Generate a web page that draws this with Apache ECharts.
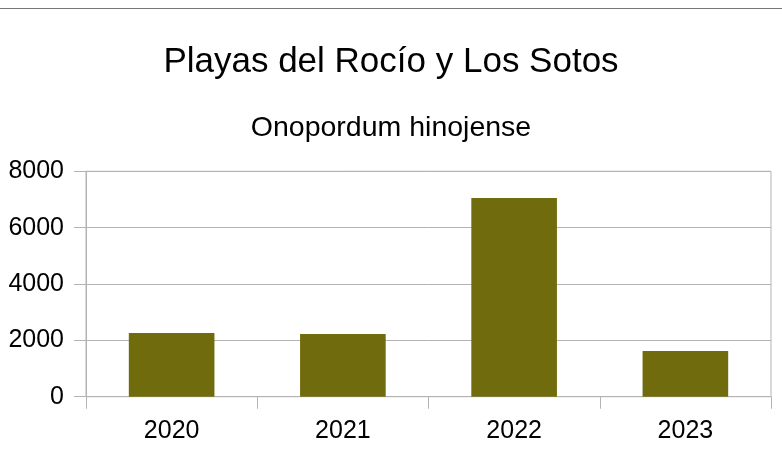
<!DOCTYPE html>
<html>
<head>
<meta charset="utf-8">
<script src="https://cdn.jsdelivr.net/npm/echarts@6/dist/echarts.min.js"></script>
<style>
html,body{margin:0;padding:0;background:#fff;}
#chart{width:782px;height:451px;}
</style>
</head>
<body>
<div id="chart"></div>
<script>
const titleText = "Playas del Rocío y Los Sotos";
const subtitleText = "Onopordum hinojense";
const categories = ["2020", "2021", "2022", "2023"];
const values = [2260, 2225, 7050, 1620];
const yTicks = { min: 0, max: 8000, interval: 2000 };

const FONT = "'Liberation Sans', Arial, sans-serif";
const chart = echarts.init(document.getElementById('chart'), null, {renderer: 'canvas'});
chart.setOption({
  animation: false,
  backgroundColor: '#ffffff',
  graphic: [{
    type: 'line',
    shape: {x1: 0, y1: 8.5, x2: 782, y2: 8.5},
    style: {stroke: '#777777', lineWidth: 1}
  }],
  title: [
    {text: titleText, left: 'center', top: 40,
     textStyle: {fontFamily: FONT, fontSize: 35, fontWeight: 'normal', color: '#000'}},
    {text: subtitleText, left: 'center', top: 109,
     textStyle: {fontFamily: FONT, fontSize: 28.5, fontWeight: 'normal', color: '#000'}}
  ],
  grid: {left: 86, right: 11, top: 171.3, bottom: 54.3, show: true, borderColor: '#b3b3b3', borderWidth: 1},
  xAxis: {
    type: 'category', data: categories, boundaryGap: true,
    axisLine: {show: true, lineStyle: {color: '#b3b3b3', width: 1}},
    axisTick: {show: true, length: 12, alignWithLabel: false, lineStyle: {color: '#b3b3b3'}},
    axisLabel: {fontFamily: FONT, fontSize: 25, color: '#000', margin: 22}
  },
  yAxis: {
    type: 'value', min: yTicks.min, max: yTicks.max, interval: yTicks.interval,
    axisLine: {show: true, lineStyle: {color: '#b3b3b3', width: 1}},
    axisTick: {show: true, length: 12, lineStyle: {color: '#b3b3b3'}},
    splitLine: {show: true, lineStyle: {color: '#b3b3b3', width: 1}},
    axisLabel: {fontFamily: FONT, fontSize: 25, color: '#000', margin: 22,
                formatter: function (v) { return String(v); }}
  },
  series: [{
    type: 'bar', data: values, barWidth: '50%',
    itemStyle: {color: '#706b0d'}
  }]
});
</script>
</body>
</html>
